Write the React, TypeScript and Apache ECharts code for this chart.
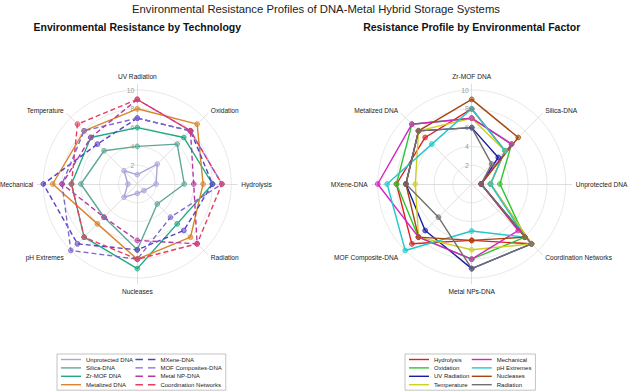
import React, { useEffect, useRef } from 'react';
import * as echarts from 'echarts';

const mainTitle = 'Environmental Resistance Profiles of DNA-Metal Hybrid Storage Systems';
const leftTitle = 'Environmental Resistance by Technology';
const rightTitle = 'Resistance Profile by Environmental Factor';

// Left chart axes, clockwise from the top
const factorAxes = ['UV Radiation', 'Oxidation', 'Hydrolysis', 'Radiation', 'Nucleases', 'pH Extremes', 'Mechanical', 'Temperature'];

const technologies = ['Unprotected DNA', 'Silica-DNA', 'Zr-MOF DNA', 'Metalized DNA', 'MXene-DNA', 'MOF Composites-DNA', 'Metal NP-DNA', 'Coordination Networks'];
const techColors = ['#aaa6da', '#5ea898', '#1fa985', '#d9852c', '#5840c4', '#8068d0', '#b23aa2', '#e83e5e'];
const techDashed = [false, false, false, false, true, true, true, true];

// Scores (0-10) in factorAxes order
const unprotectedDNA = [1, 3, 2, 1, 1, 2, 1, 2];
const silicaDNA = [4, 6, 5, 3, 7, 5, 6, 5];
const zrMofDNA = [6, 7, 8, 6, 9, 8, 7, 7];
const metalizedDNA = [8, 9, 7, 8, 8, 6, 9, 8];
const mxeneDNA = [7, 8, 8, 7, 7, 9, 10, 6];
const mofCompositesDNA = [7, 8, 9, 5, 8, 10, 8, 8];
const metalNpDNA = [9, 8, 6, 9, 6, 5, 8, 7];
const coordinationNetworks = [9, 8, 9, 9, 8, 8, 7, 9];

// Right chart axes, clockwise from the top, and which technology each one shows
const techAxes = ['Zr-MOF DNA', 'Silica-DNA', 'Unprotected DNA', 'Coordination Networks', 'Metal NPs-DNA', 'MOF Composite-DNA', 'MXene-DNA', 'Metalized DNA'];
const techAxisSource = [2, 1, 0, 7, 6, 5, 4, 3];

const factorSeries = ['Hydrolysis', 'Oxidation', 'UV Radiation', 'Temperature', 'Mechanical', 'pH Extremes', 'Nucleases', 'Radiation'];
const factorColors = ['#dc2020', '#2ec52e', '#1c1ca0', '#cfcf1e', '#d622c6', '#22c8cc', '#a4460e', '#707070'];

const tickValues = [2, 4, 6, 8, 10];

const FONT = 'Liberation Sans, Arial, Helvetica, sans-serif';
const CY = 184;
const LEFT_CX = 137.3;
const RIGHT_CX = 471.7;
const R = 94;

const techData = [unprotectedDNA, silicaDNA, zrMofDNA, metalizedDNA, mxeneDNA, mofCompositesDNA, metalNpDNA, coordinationNetworks];

// ECharts radar places indicators counter-clockwise; reorder so they read clockwise
const cw = <T,>(a: T[]): T[] => [a[0], ...a.slice(1).reverse()];

const rightData = factorSeries.map((f) => {
  const fi = factorAxes.indexOf(f);
  return techAxisSource.map((ti) => techData[ti][fi]);
});

const SOLID_ICON = 'path://M0,0h20v1.4h-20z';
const DASH_ICON = 'path://M0,0h7.5v1.4h-7.5zM12.5,0h7.5v1.4h-7.5z';

function gridRadar(cx: number, names: string[]) {
  return {
    center: [cx, CY],
    radius: R,
    startAngle: 90,
    shape: 'circle',
    splitNumber: 5,
    indicator: cw(names).map((n) => ({ name: n, min: 0, max: 10 })),
    axisName: { show: false },
    axisLine: { show: false },
    axisTick: { show: false },
    axisLabel: { show: false },
    splitLine: { lineStyle: { color: '#e2e2e2', width: 0.8 } },
    splitArea: { show: false },
  };
}

function spokeRadar(cx: number, names: string[]) {
  return {
    center: [cx, CY],
    radius: 100,
    startAngle: 90,
    shape: 'circle',
    splitNumber: 1,
    nameGap: 4,
    indicator: cw(names).map((n) => ({ name: n, min: 0, max: 10 })),
    axisName: { show: true, color: '#222', fontSize: 6.6, fontFamily: FONT },
    axisLine: { show: true, lineStyle: { color: '#d6d6d6', width: 0.8 } },
    axisTick: { show: false },
    axisLabel: { show: false },
    splitLine: { show: false },
    splitArea: { show: false },
  };
}

function radiusAxis(polarIndex: number) {
  return {
    polarIndex,
    type: 'value',
    min: 0,
    max: 10,
    interval: 2,
    axisLine: { show: false },
    axisTick: { show: false },
    splitLine: { show: false },
    axisLabel: {
      inside: true,
      margin: 3,
      color: '#9a9a9a',
      fontSize: 6.8,
      fontFamily: FONT,
      formatter: (v: number) => (tickValues.includes(v) ? String(v) : ''),
    },
    z: 1,
  };
}

const leftSeries = technologies.map((name, i) => ({
  type: 'radar',
  radarIndex: 0,
  name,
  symbol: 'circle',
  symbolSize: 4.8,
  lineStyle: { color: techColors[i], width: 1.4, type: techDashed[i] ? [5, 3] : 'solid' },
  itemStyle: { color: echarts.color.modifyAlpha(techColors[i], 0.55), borderColor: techColors[i], borderWidth: 0.8 },
  data: [{ name, value: cw(techData[i]) }],
  z: 3,
}));

const rightSeries = factorSeries.map((name, i) => ({
  type: 'radar',
  radarIndex: 2,
  name,
  symbol: 'circle',
  symbolSize: 4.8,
  lineStyle: { color: factorColors[i], width: 1.4 },
  itemStyle: { color: echarts.color.modifyAlpha(factorColors[i], 0.55), borderColor: factorColors[i], borderWidth: 0.8 },
  data: [{ name, value: cw(rightData[i]) }],
  z: 3,
}));

function legend(left: number, names: string[], colors: string[], dashed: boolean[]) {
  return {
    orient: 'vertical',
    left,
    top: 354,
    height: 32,
    padding: [2.5, 4],
    itemGap: 2.4,
    itemWidth: 20,
    itemHeight: 1.5,
    borderColor: '#b4b4b4',
    borderWidth: 0.8,
    backgroundColor: '#fff',
    selectedMode: false,
    textStyle: { fontSize: 6, lineHeight: 6, color: '#222', fontFamily: FONT },
    data: names.map((n, i) => ({
      name: n,
      icon: dashed[i] ? DASH_ICON : SOLID_ICON,
      itemStyle: { color: colors[i], borderWidth: 0 },
    })),
  };
}

const option = {
  animation: false,
  backgroundColor: '#fff',
  textStyle: { fontFamily: FONT },
  graphic: [
    { type: 'text', x: 316, y: 9, style: { text: mainTitle, align: 'center', verticalAlign: 'middle', fontSize: 11.3, fill: '#222', fontFamily: FONT } },
    { type: 'text', x: LEFT_CX, y: 26.5, style: { text: leftTitle, align: 'center', verticalAlign: 'middle', fontSize: 10.5, fontWeight: 'bold', fill: '#111', fontFamily: FONT } },
    { type: 'text', x: RIGHT_CX, y: 26.5, style: { text: rightTitle, align: 'center', verticalAlign: 'middle', fontSize: 10.5, fontWeight: 'bold', fill: '#111', fontFamily: FONT } },
  ],
  radar: [
    gridRadar(LEFT_CX, factorAxes),
    spokeRadar(LEFT_CX, factorAxes),
    gridRadar(RIGHT_CX, techAxes),
    spokeRadar(RIGHT_CX, techAxes),
  ],
  polar: [
    { center: [LEFT_CX, CY], radius: R },
    { center: [RIGHT_CX, CY], radius: R },
  ],
  angleAxis: [
    { polarIndex: 0, type: 'value', min: 0, max: 360, startAngle: 90, show: false },
    { polarIndex: 1, type: 'value', min: 0, max: 360, startAngle: 90, show: false },
  ],
  radiusAxis: [radiusAxis(0), radiusAxis(1)],
  legend: [
    legend(57, technologies, techColors, techDashed),
    legend(405, factorSeries, factorColors, factorSeries.map(() => false)),
  ],
  series: [...leftSeries, ...rightSeries],
};

export default function App() {
  const ref = useRef<HTMLDivElement>(null);
  useEffect(() => {
    const chart = echarts.init(ref.current!, null, { renderer: 'svg' });
    chart.setOption(option as any);
    return () => chart.dispose();
  }, []);
  return <div ref={ref} style={{ position: 'absolute', left: 0, top: 0, width: 631, height: 392, background: '#fff' }} />;
}
